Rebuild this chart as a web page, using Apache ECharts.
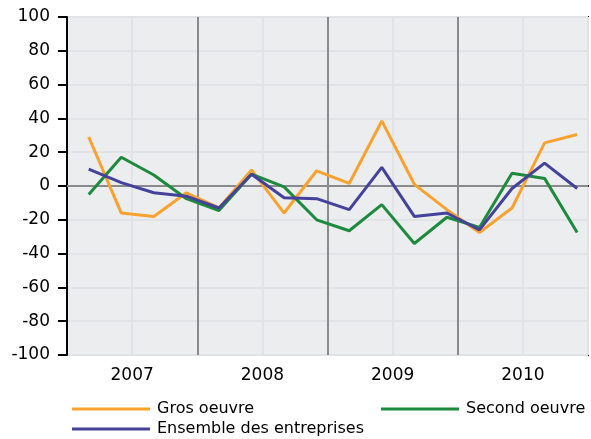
<!DOCTYPE html>
<html>
<head>
<meta charset="utf-8">
<script src="https://cdn.jsdelivr.net/npm/echarts@6/dist/echarts.min.js"></script>
<style>html,body{margin:0;padding:0;background:#fff}#c{width:591px;height:439px}</style>
</head>
<body>
<div id="c"></div>
<script>
var years = ['2007', '2008', '2009', '2010'];
var quarterIndex = [0, 1, 2, 3, 4, 5, 6, 7, 8, 9, 10, 11, 12, 13, 14, 15];
var grosOeuvre = [29, -16, -18, -4, -13, 9.5, -16, 9, 1.5, 38.5, 1, -14, -27.5, -13, 25.5, 30.5];
var secondOeuvre = [-5, 17, 6.5, -7.5, -14.5, 7, -0.5, -20, -26.5, -11, -34, -18.5, -24.5, 7.5, 4.5, -27.5];
var ensemble = [10, 2, -4, -6, -13, 7, -7, -7.5, -14, 11, -18, -16, -26, -1.5, 13.5, -1.5];
var seriesNames = ['Gros oeuvre', 'Second oeuvre', 'Ensemble des entreprises'];
var colors = ['#f9a230', '#1d8a3d', '#45429c'];

// x positions: middle month of each quarter on a month scale (0..48)
function pts(vals) { return vals.map(function (v, i) { return [quarterIndex[i] * 3 + 2, v]; }); }

var chart = echarts.init(document.getElementById('c'));
var font = 'DejaVu Sans';
function legend(name, left, top) {
  return {
    data: [name], left: left, top: top, orient: 'horizontal', padding: 0,
    icon: 'rect', itemWidth: 78, itemHeight: 3, itemGap: 0,
    textStyle: { fontFamily: font, fontSize: 16, color: '#000', padding: [0, 0, 0, 2] },
    selectedMode: false
  };
}
chart.setOption({
  animation: false,
  grid: {
    left: 67, top: 17, width: 525, height: 338,
    show: true, backgroundColor: '#ecedef', borderColor: '#000', borderWidth: 2
  },
  legend: [
    legend(seriesNames[0], 72, 401),
    legend(seriesNames[1], 381, 401),
    legend(seriesNames[2], 72, 421)
  ],
  xAxis: {
    type: 'value', min: 0, max: 48, interval: 6,
    axisLine: { show: true, lineStyle: { color: '#000', width: 2 } },
    axisTick: { show: false },
    axisLabel: {
      fontFamily: font, fontSize: 17, color: '#000', margin: 12,
      formatter: function (v) { return (v % 12 === 6) ? years[(v - 6) / 12] : ''; }
    },
    splitLine: { show: true, lineStyle: { color: '#e2e3e6', width: 2 } }
  },
  yAxis: {
    type: 'value', min: -100, max: 100, interval: 20,
    axisLine: { show: true, lineStyle: { color: '#000', width: 2 } },
    axisTick: { show: true, length: 9, lineStyle: { color: '#000', width: 2 } },
    axisLabel: { fontFamily: font, fontSize: 17, color: '#000', margin: 17 },
    splitLine: { show: true, lineStyle: { color: '#e2e3e6', width: 2 } }
  },
  series: [
    {
      name: 'dividers', type: 'line', data: [], silent: true,
      markLine: {
        z: 1, silent: true, symbol: 'none', label: { show: false },
        lineStyle: { color: '#8a8a8c', width: 2, type: 'solid' },
        data: [{ yAxis: 0 }, { xAxis: 12 }, { xAxis: 24 }, { xAxis: 36 }]
      }
    },
    { name: seriesNames[0], type: 'line', data: pts(grosOeuvre), color: colors[0], showSymbol: false, lineStyle: { width: 3 }, z: 3 },
    { name: seriesNames[1], type: 'line', data: pts(secondOeuvre), color: colors[1], showSymbol: false, lineStyle: { width: 3 }, z: 4 },
    { name: seriesNames[2], type: 'line', data: pts(ensemble), color: colors[2], showSymbol: false, lineStyle: { width: 3 }, z: 5 }
  ]
});
</script>
</body>
</html>
